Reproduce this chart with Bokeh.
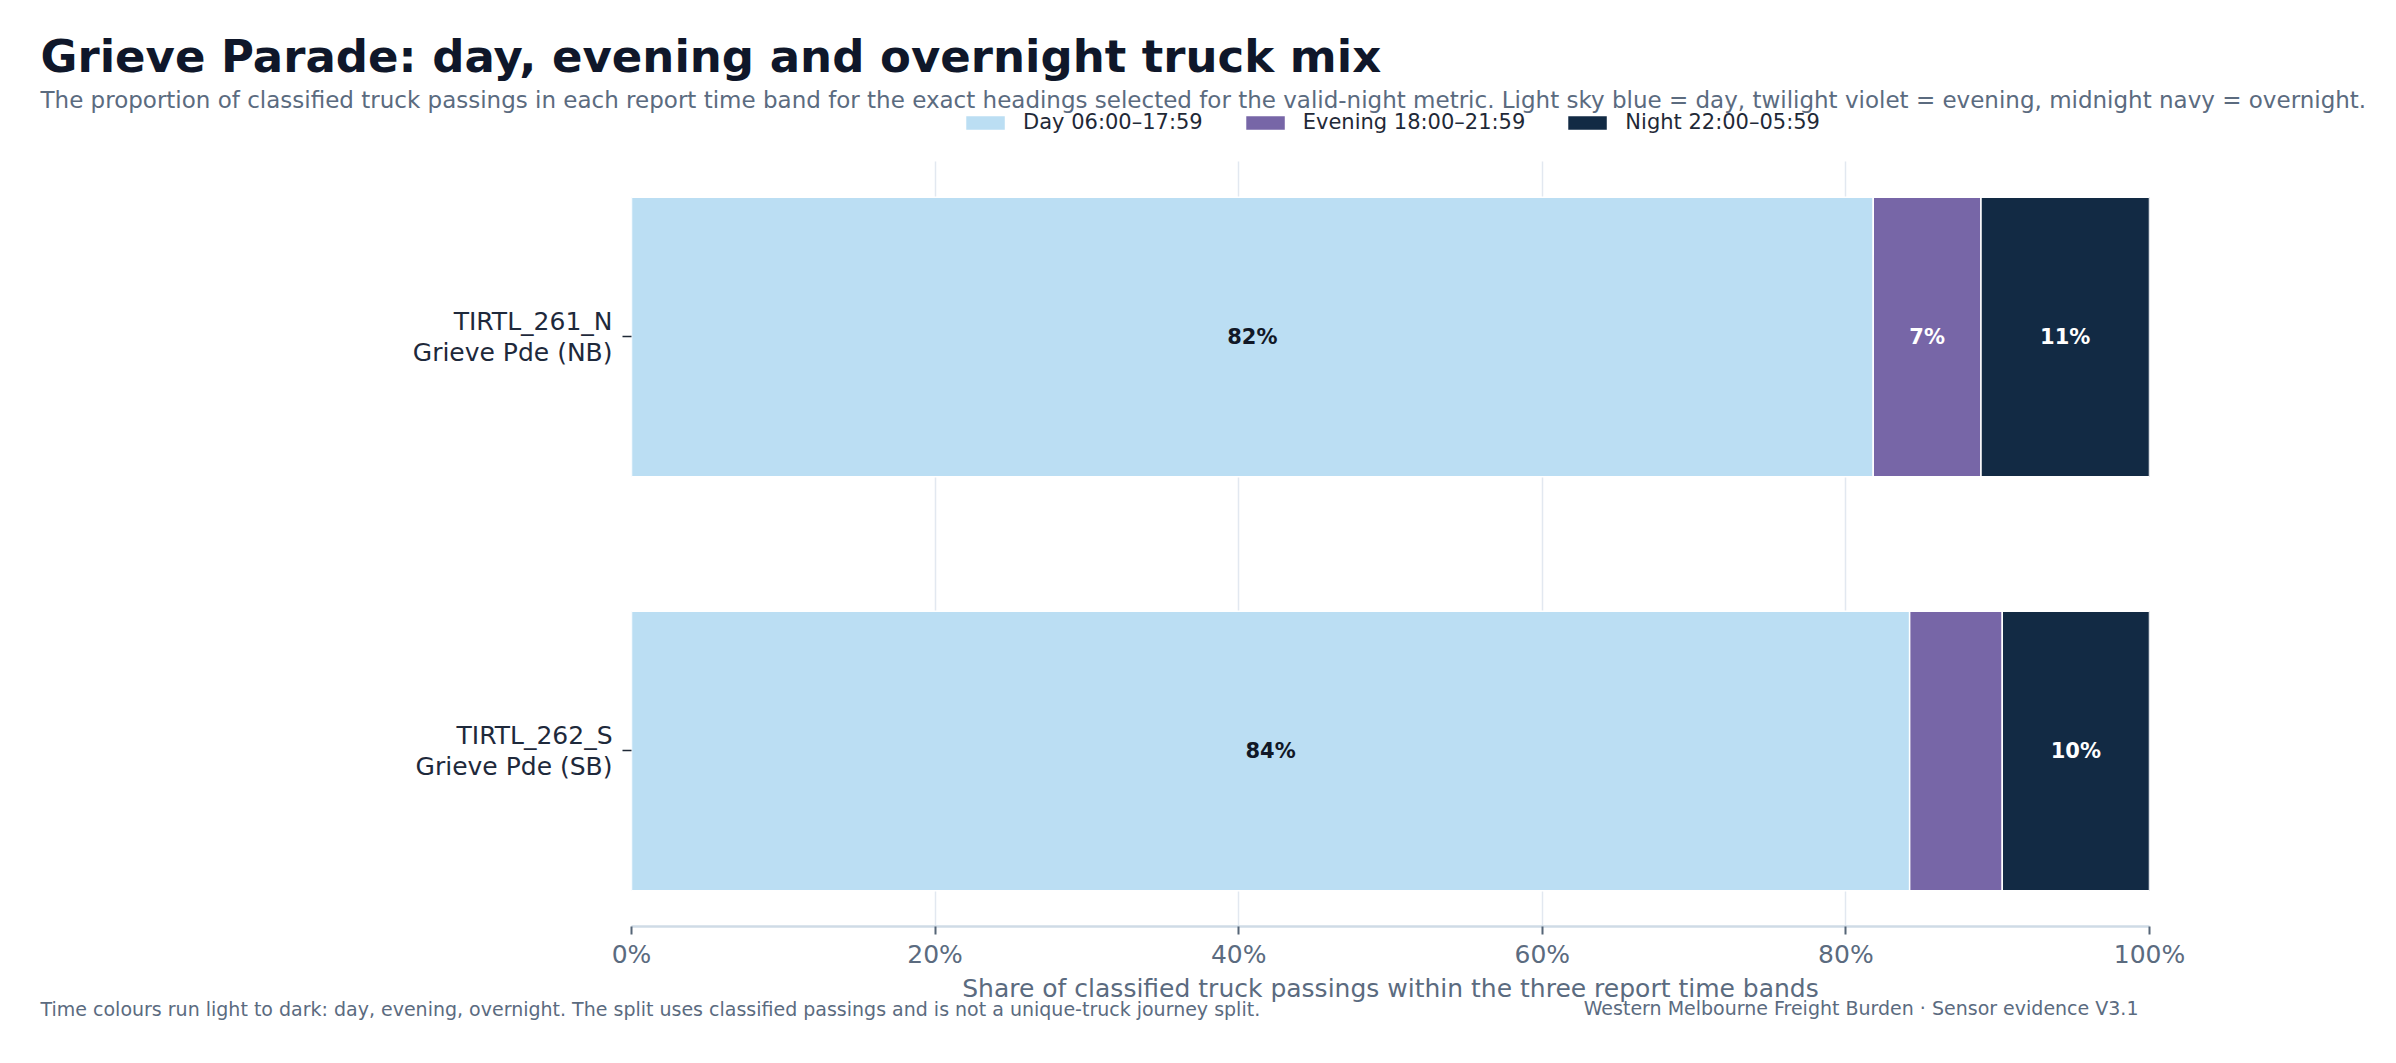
from bokeh.plotting import figure
from bokeh.models import (ColumnDataSource, Range1d, FixedTicker, Title,
                          PrintfTickFormatter, Legend, LegendItem)
from bokeh.core.properties import value
from bokeh.embed import file_html
from bokeh.resources import INLINE

# ---- data ----
sites = ["TIRTL_261_N\nGrieve Pde (NB)", "TIRTL_262_S\nGrieve Pde (SB)"]
band_keys = ["day", "evening", "night"]
band_labels = ["Day 06:00\u201317:59", "Evening 18:00\u201321:59", "Night 22:00\u201305:59"]
day = [81.8, 84.2]
evening = [7.1, 6.1]
night = [11.1, 9.7]
x_ticks = [0, 20, 40, 60, 80, 100]

title_text = "Grieve Parade: day, evening and overnight truck mix"
subtitle_text = ("The proportion of classified truck passings in each report time band for the exact "
                 "headings selected for the valid-night metric. Light sky blue = day, twilight violet = "
                 "evening, midnight navy = overnight.")
xlabel_text = "Share of classified truck passings within the three report time bands"
footer_left = ("Time colours run light to dark: day, evening, overnight. The split uses classified "
               "passings and is not a unique-truck journey split.")
footer_right = "Western Melbourne Freight Burden \u00b7 Sensor evidence V3.1"

# ---- style ----
colors = ["#bbdef3", "#7766a7", "#122a44"]
label_colors = ["#111827", "#ffffff", "#ffffff"]
FONT = "DejaVu Sans"
GREY = "#5b6b7f"
W, H = 2380, 1050
FL, FR, FT, FB = 631, 2149, 110, 926   # frame edges in page pixels (frame includes legend row)
Y_LO, Y_HI, Y_TOP = -0.424, 1.424, 1.547  # category band extent and frame top (data units)
EM = 1.164                              # DejaVu line box / font size

ys = list(range(len(sites)))[::-1]
source = ColumnDataSource(dict(y=ys, day=day, evening=evening, night=night))

p = figure(width=W, height=H, output_backend="svg", toolbar_location=None,
           title_location=None,
           x_range=Range1d(0, 100), y_range=Range1d(Y_LO, Y_TOP),
           min_border_left=FL, min_border_right=W - FR, min_border_top=FT,
           min_border_bottom=H - FB)
p.outline_line_color = None
p.background_fill_color = "white"
p.border_fill_color = "white"

renderers = p.hbar_stack(band_keys, y="y", height=0.675, color=colors, line_color="white",
                         line_width=1.5, source=source)

# segment labels
vals = [day, evening, night]
lx, ly, lt, lc = [], [], [], []
for i, yv in enumerate(ys):
    left = 0.0
    for b in range(len(band_keys)):
        v = vals[b][i]
        if v >= 6.5:
            lx.append(left + v / 2)
            ly.append(yv)
            lt.append(f"{round(v)}%")
            lc.append(label_colors[b])
        left += v
p.text(x=lx, y=ly, text=lt, text_color=lc, text_align="center", text_baseline="middle",
       text_font=value(FONT), text_font_size="21px", text_font_style="bold")

# axes
p.xaxis.ticker = FixedTicker(ticks=x_ticks)
p.xaxis.formatter = PrintfTickFormatter(format="%d%%")
p.xaxis.axis_line_color = "#cfdbe6"
p.xaxis.axis_line_width = 2.5
p.xaxis.major_tick_line_color = "#556577"
p.xaxis.major_tick_line_width = 2
p.xaxis.major_tick_out = 8
p.xaxis.major_tick_in = 0
p.xaxis.minor_tick_line_color = None
p.xaxis.major_label_text_font = FONT
p.xaxis.major_label_text_font_size = "25px"
p.xaxis.major_label_text_color = GREY
p.xaxis.major_label_standoff = 5
p.xaxis.axis_label = xlabel_text
p.xaxis.axis_label_text_font = FONT
p.xaxis.axis_label_text_font_size = "25px"
p.xaxis.axis_label_text_font_style = "normal"
p.xaxis.axis_label_text_color = GREY
p.xaxis.axis_label_standoff = 2

p.yaxis.ticker = FixedTicker(ticks=ys)
p.yaxis.major_label_overrides = {yv: s for yv, s in zip(ys, sites)}
p.yaxis.axis_line_color = None
p.yaxis.major_tick_line_color = "#1f2937"
p.yaxis.major_tick_line_width = 1.5
p.yaxis.major_tick_out = 9
p.yaxis.major_tick_in = 0
p.yaxis.minor_tick_line_color = None
p.yaxis.major_label_text_font = FONT
p.yaxis.major_label_text_font_size = "25px"
p.yaxis.major_label_text_line_height = 1.05
p.yaxis.major_label_text_color = "#1e293b"
p.yaxis.major_label_standoff = 10

xg = p.xgrid[0]
xg.grid_line_color = "#e2e8f0"
xg.grid_line_width = 1.5
if "cross_bounds" in xg.properties():
    xg.cross_bounds = (Y_LO, Y_HI)
p.ygrid.grid_line_color = None

# legend row at the top of the frame, centred over the bars
legend = Legend(items=[LegendItem(label=lab, renderers=[r]) for lab, r in zip(band_labels, renderers)],
                orientation="horizontal", location="top_center",
                border_line_color=None, background_fill_alpha=0, padding=0, margin=0,
                spacing=37, label_standoff=13, glyph_width=50, glyph_height=19,
                label_text_font=FONT, label_text_font_size="21px",
                label_text_color="#1f2937", label_text_baseline="middle")
p.add_layout(legend)

# ---- above (closest to frame first): subtitle, title ----
p.add_layout(Title(text=subtitle_text, align="left", offset=40 - FL, standoff=-4.8,
                   vertical_align="bottom", text_font=FONT, text_font_size="23px",
                   text_font_style="normal", text_color=GREY), "above")
p.add_layout(Title(text=title_text, align="left", offset=40 - FL, standoff=9.6,
                   vertical_align="bottom", text_font=FONT, text_font_size="45px",
                   text_font_style="bold", text_color="#0f172a"), "above")

# ---- below (closest to frame first): x axis, then two footers sharing one line ----
fh = EM * 19
p.add_layout(Title(text=footer_left, align="left", offset=40 - FL, standoff=4 - 2 - fh,
                   vertical_align="bottom", text_font=FONT, text_font_size="19px",
                   text_font_style="normal", text_color=GREY), "below")
p.add_layout(Title(text=footer_right, align="right", offset=FR - 2138, standoff=-(2 + fh),
                   vertical_align="top", text_font=FONT, text_font_size="19px",
                   text_font_style="normal", text_color=GREY), "below")

open("out.html", "w").write(file_html(p, INLINE))
